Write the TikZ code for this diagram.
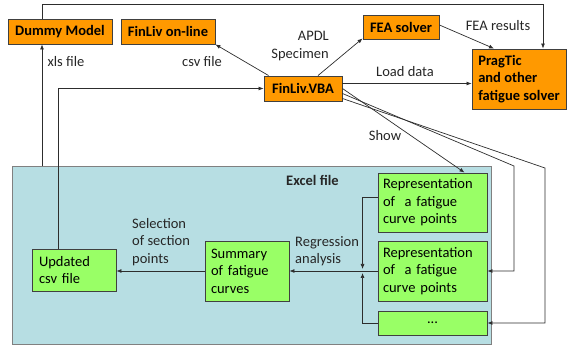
\documentclass[tikz,border=0pt]{standalone}
\usepackage{fontspec}
\setmainfont{Carlito}
\usepackage{tikz}
\usetikzlibrary{
  positioning,
  arrows.meta,
  calc
}
\definecolor{toolbg}{RGB}{255,153,0}
\definecolor{sheetbg}{RGB}{153,255,102}
\definecolor{excelbg}{RGB}{183,222,227}
\definecolor{edgecolor}{RGB}{64,64,64}
\definecolor{arrowcolor}{RGB}{45,45,45}
\tikzset{
  toolbox/.style={
    draw=edgecolor, fill=toolbg, line width=0.9pt,
    font=\fontsize{14.5}{17.5}\selectfont\bfseries, align=center, inner sep=0pt
  },
  sheetbox/.style={
    draw=edgecolor, fill=sheetbg, line width=0.9pt,
    font=\fontsize{14.5}{17.5}\selectfont, align=left, inner ysep=0pt
  },
  excelbox/.style={
    draw=gray, fill=excelbg, line width=1pt
  },
  flowarrow/.style={
    -{Latex[length=5pt,width=4pt]}, line width=0.7pt, draw=arrowcolor
  },
  flowlabel/.style={
    font=\fontsize{14.5}{17.5}\selectfont, text=black!85, inner sep=0pt
  }
}

\begin{document}
\begin{tikzpicture}[x=1pt, y=-1pt]
    \useasboundingbox (0,0) rectangle (568,347);

    % Excel file frame
    \node[excelbox, minimum width=479pt, minimum height=178pt] (excel) at (251.5,256) {};
    \node[flowlabel, font=\fontsize{14.5}{17.5}\selectfont\bfseries, anchor=west] (exceltitle) at (286,180) {Excel file};

    % Tools on top
    \node[toolbox, minimum width=104pt, minimum height=25pt] (dummy) at (60,31.5) {Dummy Model};
    \node[toolbox, minimum width=94pt, minimum height=25pt] (online) at (168,31.5) {FinLiv on-line};
    \node[toolbox, minimum width=78pt, minimum height=25pt] (vba) at (303,88.5) {FinLiv.VBA};
    \node[toolbox, minimum width=76pt, minimum height=24pt] (fea) at (401,27) {FEA solver};
    \node[toolbox, align=left, minimum width=94pt, minimum height=60pt] (pragtic) at (519,79) {PragTic\\and other\\fatigue solver};

    % Sheets inside the Excel file
    \node[sheetbox, text width=99pt, inner xsep=5pt, minimum height=59pt] (rep1) at (432.5,202.5) {Representation\\of~ a fatigue\\curve points};
    \node[sheetbox, text width=99pt, inner xsep=5pt, minimum height=60pt] (rep2) at (432.5,271) {Representation\\of~ a fatigue\\curve points};
    \node[sheetbox, text width=109pt, inner xsep=0pt, align=center, minimum height=24pt] (dots) at (432.5,323) {...};
    \node[sheetbox, text width=72pt, inner xsep=6pt, minimum height=60pt] (summary) at (247,271) {Summary\\of fatigue\\curves};
    \node[sheetbox, text width=70pt, inner xsep=7pt, minimum height=42pt] (updated) at (74,270) {Updated\\csv file};

    % Labels
    \node[flowlabel] (xlslbl) at (66,62) {xls file};
    \node[flowlabel] (csvlbl) at (202,62) {csv file};
    \node[flowlabel, align=right, anchor=east] (apdllbl) at (329,46) {APDL\\Specimen};
    \node[flowlabel] (fealbl) at (498,26) {FEA results};
    \node[flowlabel] (loadlbl) at (405,72) {Load data};
    \node[flowlabel] (showlbl) at (385,136) {Show};
    \node[flowlabel, align=left, anchor=west] (sellbl) at (132,242) {Selection\\of section\\points};
    \node[flowlabel, align=left, anchor=west] (reglbl) at (295,251) {Regression\\analysis};

    % Corner points
    \coordinate (join) at ([xshift=-15pt]rep2.west);
    \coordinate (dummyfoot) at ([xshift=-18pt]dummy.south);
    \coordinate (rep2turn) at (514,166);
    \coordinate (dotsturn) at (545,168);

    % Arrows between tools
    \draw[flowarrow] ([xshift=-18pt]dummy.north) -- ++(0,-14) -| ([xshift=24pt]pragtic.north);
    \draw[flowarrow] (excel.north -| dummyfoot) -- (dummyfoot);
    \draw[flowarrow] ([xshift=5pt]vba.north west) -- (online.south east);
    \draw[flowarrow] ([xshift=15pt]vba.north) -- ([yshift=1pt]fea.south west);
    \draw[flowarrow] ([yshift=2pt]fea.east) -- ([xshift=-25pt]pragtic.north);
    \draw[flowarrow] ([yshift=5pt]vba.east) -- ([yshift=5pt]vba.east -| pragtic.west);
    \draw[flowarrow] (vba.east) -- ([xshift=32pt]rep1.north);
    \draw[flowarrow] ([yshift=-5pt]vba.east) -- (rep2turn) |- (rep2.east);
    \draw[flowarrow] ([yshift=-10pt]vba.east) -- (dotsturn) |- (dots.east);

    % Arrows inside the Excel file
    \draw[flowarrow] (rep2.west) -- (summary.east);
    \draw[flowarrow] ([yshift=5pt]rep1.west) -| ([yshift=2pt]join);
    \draw[flowarrow] (dots.west) -| ([yshift=-2pt]join);
    \draw[flowarrow] (summary.west) -- (summary.west -| updated.east);
    \draw[flowarrow] ([xshift=-16pt]updated.north) |- (vba.west);

  \end{tikzpicture}
\end{document}
